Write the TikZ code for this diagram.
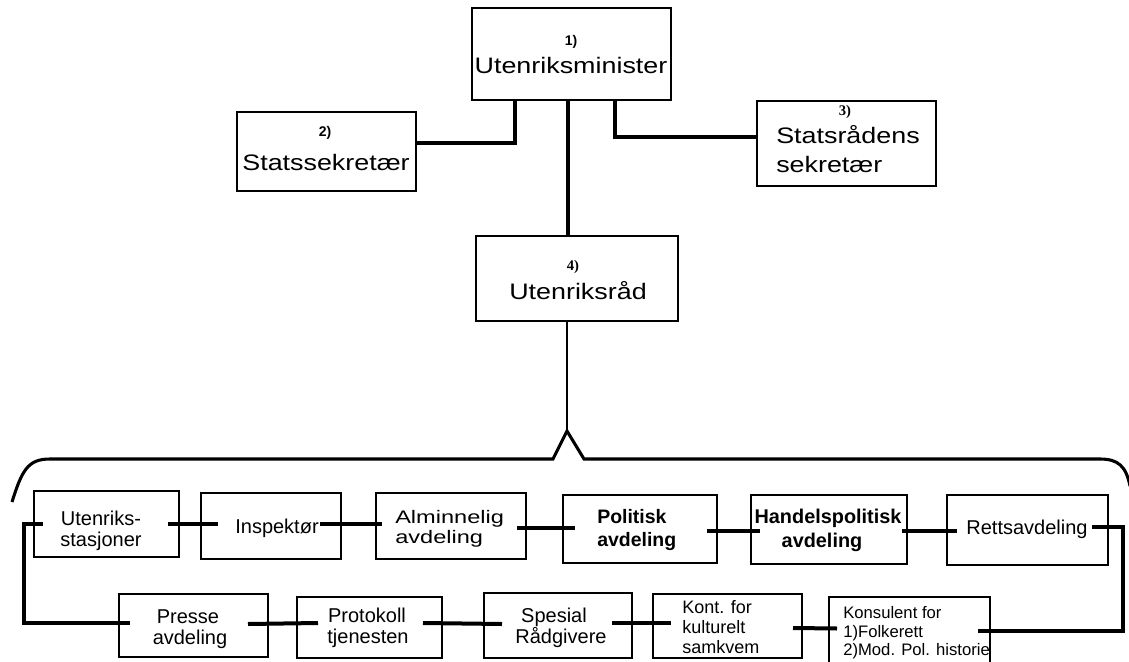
\documentclass[tikz,border=0pt]{standalone}
\usepackage{fontspec}
\setmainfont{Liberation Sans}
\newfontfamily\serifnumfam{Liberation Serif}
\newfontfamily\widefam[FakeStretch=1.2]{Liberation Sans}
\newfontfamily\widerfam[FakeStretch=1.3]{Liberation Sans}
\usetikzlibrary{calc}
\newcommand\fBig{\widefam\fontsize{16.8}{20}\selectfont}
\newcommand\fMed{\fontsize{15}{18}\selectfont}
\newcommand\fAlm{\widerfam\fontsize{13.6}{16}\selectfont}
\newcommand\fBold{\fontsize{14.6}{17}\selectfont\bfseries}
\newcommand\fHand{\fontsize{14.9}{17}\selectfont\bfseries}
\newcommand\fKont{\fontsize{13.5}{16}\selectfont}
\newcommand\fKons{\fontsize{12.5}{15}\selectfont}
\newcommand\fNumS{\fontsize{10.5}{12}\selectfont\bfseries}
\newcommand\fNumR{\serifnumfam\fontsize{11}{12}\selectfont\bfseries}
\newcommand\boxat[5]{\node[box, minimum width={(#4-#2)*0.75pt}, minimum height={(#5-#3)*0.75pt}] (#1) at ({(#2+#4)/2},{(#3+#5)/2}) {};}
\begin{document}
\begin{tikzpicture}[x=0.75pt,y=-0.75pt,
  box/.style={draw, line width=1.5pt, inner sep=0pt, outer sep=0pt},
  conn/.style={line width=3pt},
  thinconn/.style={line width=1.6pt},
  bracel/.style={line width=2.3pt, line join=miter},
  txt/.style={inner sep=0pt, anchor=base},
  txtl/.style={inner sep=0pt, anchor=base west}]
\fill[white] (0,0) rectangle (1129,661);
\useasboundingbox (0,0) rectangle (1129,661);

% boxes
\boxat{minister}{472}{8}{671}{100}
\boxat{statssek}{237}{112}{416}{191}
\boxat{statsrad}{757}{101}{936}{186}
\boxat{rad}{476}{236}{678}{321}
\boxat{utst}{34}{491}{179}{557}
\boxat{insp}{201}{493}{341}{559}
\boxat{almin}{376}{493}{526}{559}
\boxat{pol}{563}{495}{717}{563}
\boxat{handel}{751}{495}{907}{564}
\boxat{retts}{947}{495}{1108}{565}
\boxat{presse}{119}{594}{268}{657}
\boxat{proto}{297}{597}{442}{658}
\boxat{spes}{484}{593}{632}{658}
\boxat{kont}{653}{594}{802}{658}
\boxat{kons}{829}{597}{990}{664}

% texts
\node[txt, font=\fNumS] (ministerN) at (571,45) {1)};
\node[txt, font=\fBig] (ministerT) at (571,73) {Utenriksminister};
\node[txt, font=\fNumS] (statssekN) at (325,136) {2)};
\node[txt, font=\fBig] (statssekT) at (326,170) {Statssekretær};
\node[txt, font=\fNumR] (statsradN) at (845,115) {3)};
\node[txtl, font=\fBig] (statsradT1) at (776,143) {Statsrådens};
\node[txtl, font=\fBig] (statsradT2) at (776,172) {sekretær};
\node[txt, font=\fNumR] (radN) at (573,270) {4)};
\node[txt, font=\fBig] (radT) at (578,299) {Utenriksråd};

\node[txt, font=\fMed] (utstT1) at (101,525) {Utenriks-};
\node[txt, font=\fMed] (utstT2) at (101,546) {stasjoner};
\node[txt, font=\fMed] (inspT) at (277,533) {Inspektør};
\node[txtl, font=\fAlm] (alminT1) at (395,523) {Alminnelig};
\node[txtl, font=\fAlm] (alminT2) at (395,543) {avdeling};
\node[txtl, font=\fBold] (polT1) at (597,523) {Politisk};
\node[txtl, font=\fBold] (polT2) at (597,546) {avdeling};
\node[txt, font=\fHand] (handelT1) at (828,523) {Handelspolitisk};
\node[txt, font=\fHand] (handelT2) at (822,547) {avdeling};
\node[txt, font=\fMed] (rettsT) at (1027,534) {Rettsavdeling};
\node[txt, font=\fMed] (presseT1) at (188,623) {Presse};
\node[txt, font=\fMed] (presseT2) at (190,644) {avdeling};
\node[txt, font=\fMed] (protoT1) at (367,622) {Protokoll};
\node[txt, font=\fMed] (protoT2) at (368,643) {tjenesten};
\node[txt, font=\fMed] (spesT1) at (554,622) {Spesial};
\node[txt, font=\fMed] (spesT2) at (561,643) {Rådgivere};
\node[txtl, font=\fKont] (kontT1) at (682,613) {Kont. for};
\node[txtl, font=\fKont] (kontT2) at (682,633) {kulturelt};
\node[txtl, font=\fKont] (kontT3) at (682,653) {samkvem};
\node[txtl, font=\fKons] (konsT1) at (843,618) {Konsulent for};
\node[txtl, font=\fKons] (konsT2) at (843,637) {1)Folkerett};
\node[txtl, font=\fKons] (konsT3) at (843,655) {2)Mod. Pol. historie};

% top connectors
\draw[conn] ($(statssek.north east)+(0,31)$) -| ($(minister.south west)+(43,0)$);
\draw[conn] ($(minister.south west)+(96,0)$) -- ($(rad.north west)+(92,0)$);
\draw[conn] ($(minister.south west)+(143,0)$) |- ($(statsrad.north west)+(0,36)$);

% brace
\coordinate (peak) at (567,431);
\draw[thinconn] ($(rad.south west)+(91,0)$) -- (peak);
\draw[bracel] (12,502) .. controls (22,470) and (28,459) .. (50,459) -- (553,459) -- (peak) -- (584,459) -- (1100,459) .. controls (1118,459) and (1126,466) .. (1130,486);

% row 1 connectors
\draw[conn] ($(utst.east)+(-11,0)$) -- ($(insp.west |- utst.east)+(17,0)$);
\draw[conn] ($(insp.east)+(-21,-2)$) -- ($(almin.west)+(6,-2)$);
\draw[conn] ($(almin.east)+(-9,2)$) -- ($(pol.west)+(12,-1)$);
\draw[conn] ($(pol.east)+(-10,2)$) -- ($(handel.west)+(9,1.5)$);
\draw[conn] ($(handel.east)+(-5,1.5)$) -- ($(retts.west)+(10,1)$);

% loops
\draw[conn] ($(utst.west)+(9,0)$) -| ($(presse.west)+(-95,-2.5)$) -- ($(presse.west)+(11,-2.5)$);
\draw[conn] ($(retts.east)+(-16,-3)$) -| ($(kons.east)+(133,0)$) -- ($(kons.east)+(-12,0)$);

% row 2 connectors
\draw[conn] ($(presse.east)+(-20,-1.5)$) -- ($(proto.west)+(21,-4.5)$);
\draw[conn] ($(proto.east)+(-19,-4.5)$) -- ($(spes.west)+(18,-1.5)$);
\draw[conn] ($(spes.east)+(-20,-2.5)$) -- ($(kont.west)+(18,-3)$);
\draw[conn] ($(kont.east)+(-9,2)$) -- ($(kons.west)+(8,-2)$);
\end{tikzpicture}
\end{document}
